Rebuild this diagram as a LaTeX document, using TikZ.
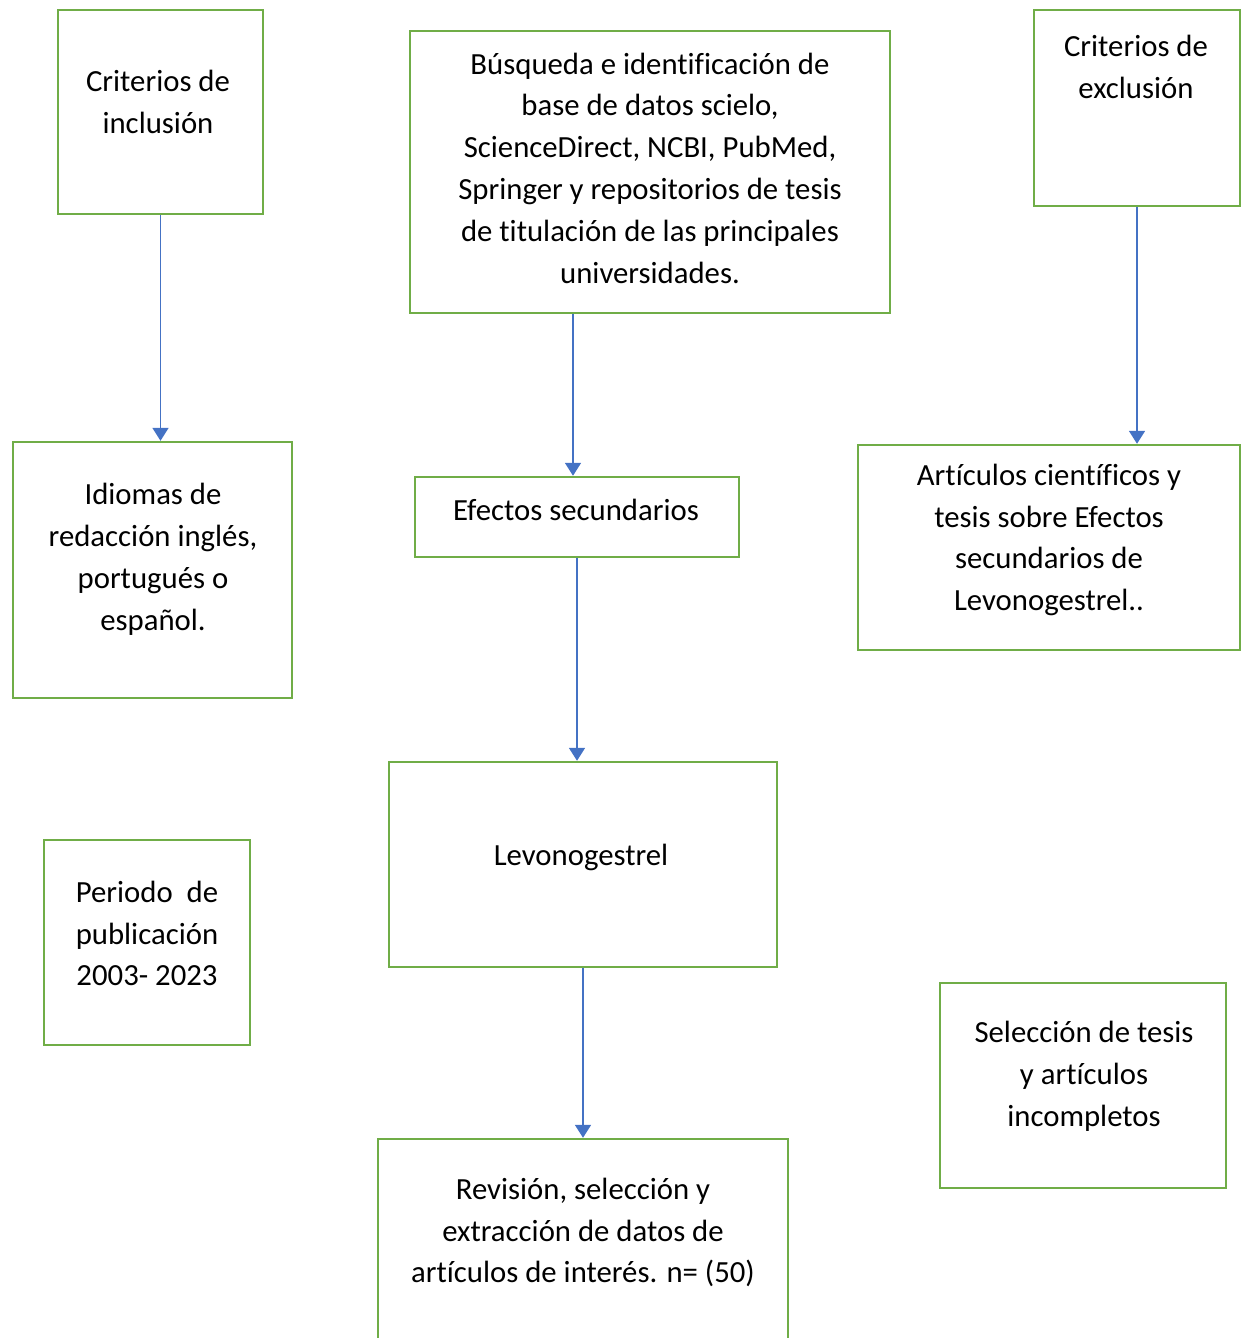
\documentclass[tikz,border=0pt]{standalone}
\usepackage{fontspec}
\setmainfont{Carlito}[Ligatures=NoCommon]
\usepackage{tikz}
\usetikzlibrary{arrows.meta, positioning}
\usepackage{xcolor}

\definecolor{boxgreen}{HTML}{70AD47}
\definecolor{flowblue}{HTML}{4472C4}

% break the t-i ligature of Carlito
\newcommand{\nolig}{\kern0pt}

\tikzset{
  stage/.style 2 args={draw=boxgreen, line width=1.4pt, inner sep=0pt,
    minimum width=#1, minimum height=#2},
  stagetext/.style={align=center, inner sep=0pt,
    font=\fontsize{17.5}{23.8}\selectfont},
  flow/.style={draw=flowblue, line width=1pt,
    -{Triangle[width=0.32cm,length=0.26cm]}}
}

\begin{document}
\begin{tikzpicture}[x=0.02cm, y=-0.02cm]

  \useasboundingbox (0,0) rectangle (1247,1338);

  % Boxes
  \node[stage={4.10cm}{4.08cm}] (incl) at (160.5,112) {};
  \node[stage={9.60cm}{5.64cm}] (busq) at (650,172) {};
  \node[stage={4.12cm}{3.92cm}] (excl) at (1137,108) {};
  \node[stage={5.58cm}{5.12cm}] (idiom) at (152.5,570) {};
  \node[stage={6.48cm}{1.60cm}] (efect) at (577,517) {};
  \node[stage={7.64cm}{4.10cm}] (artic) at (1049,547.5) {};
  \node[stage={7.76cm}{4.10cm}] (levo) at (583,864.5) {};
  \node[stage={4.12cm}{4.10cm}] (period) at (147,942.5) {};
  \node[stage={5.72cm}{4.10cm}] (selec) at (1083,1085.5) {};
  \node[stage={8.20cm}{4.16cm}] (revis) at (583,1243) {};

  % Texts
  \node[stagetext] (incl-t) at (158,102) {Criterios de\\inclusión};
  \node[stagetext] (busq-t) at (650,168) {Búsqueda e ident\nolig ificación de\\base de datos scielo,\\ScienceDirect, NCBI, PubMed,\\Springer y repositorios de tesis\\de t\nolig itulación de las principales\\universidades.};
  \node[stagetext] (excl-t) at (1136,67) {Criterios de\\exclusión};
  \node[stagetext] (idiom-t) at (153,559.5) {Idiomas de\\redacción inglés,\\portugués o\\español.};
  \node[stagetext] (efect-t) at (576,510) {Efectos secundarios};
  \node[stagetext] (artic-t) at (1049,540) {Artículos cient\nolig íficos y\\tesis sobre Efectos\\secundarios de\\Levonogestrel..};
  \node[stagetext] (levo-t) at (581,857) {Levonogestrel};
  \node[stagetext] (period-t) at (147,933.5) {Periodo\ \ de\\publicación\\2003- 2023};
  \node[stagetext] (selec-t) at (1084,1076) {Selección de tesis\\y artículos\\incompletos};
  \node[stagetext] (revis-t) at (583,1232.5) {Revisión, selección y\\extracción de datos de\\artículos de interés. n= (50)};

  % Arrows
  \draw[flow] (incl.south) -- (incl.south |- idiom.north);
  \draw[flow] ([xshift=-0.08cm]busq.south -| efect.north) -- ([xshift=-0.08cm]efect.north);
  \draw[flow] (excl.south) -- (excl.south |- artic.north);
  \draw[flow] (efect.south) -- (efect.south |- levo.north);
  \draw[flow] (levo.south) -- (revis.north);

\end{tikzpicture}
\end{document}
